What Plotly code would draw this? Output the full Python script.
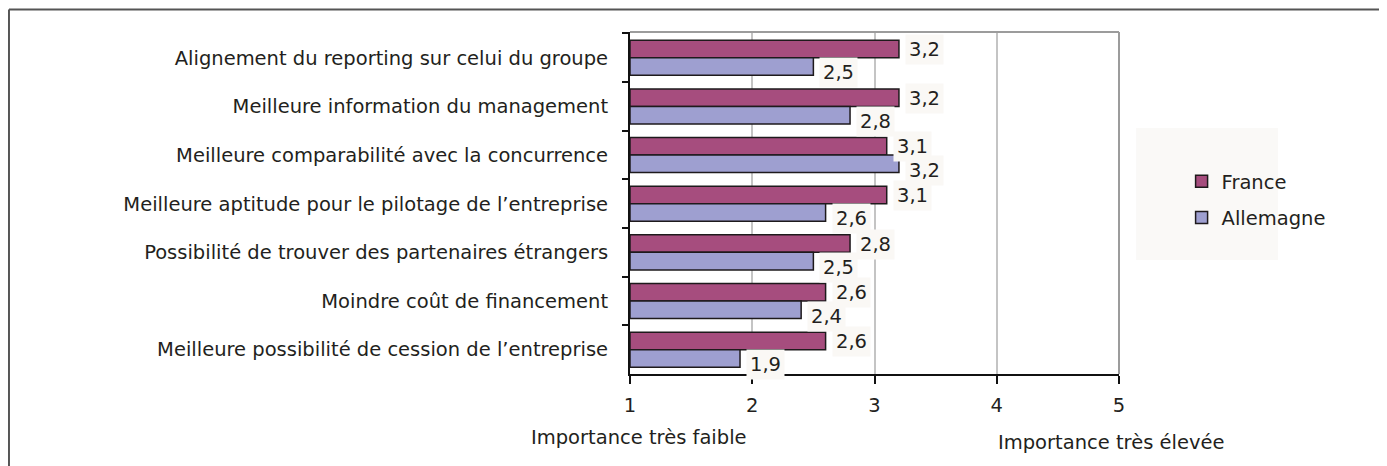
import plotly.graph_objects as go

# données (échelle 1 à 5)
categories = [
    "Alignement du reporting sur celui du groupe",
    "Meilleure information du management",
    "Meilleure comparabilité avec la concurrence",
    "Meilleure aptitude pour le pilotage de l’entreprise",
    "Possibilité de trouver des partenaires étrangers",
    "Moindre coût de financement",
    "Meilleure possibilité de cession de l’entreprise",
]
france = [3.2, 3.2, 3.1, 3.1, 2.8, 2.6, 2.6]
allemagne = [2.5, 2.8, 3.2, 2.6, 2.5, 2.4, 1.9]
x_ticks = [1, 2, 3, 4, 5]

FONT = "DejaVu Sans, Arial, Helvetica, sans-serif"
FS = 19.5
TXT = "#231F20"
C_FR = "#A64D7E"
C_DE = "#9E9FD0"
LABEL_BG = "#FAF8F5"

fig = go.Figure()
fig.add_trace(go.Bar(
    y=categories, x=[v - 1 for v in france], base=1, orientation="h",
    name="France", legendgroup="fr",
    marker=dict(color=C_FR, line=dict(color="#1E1A1C", width=1.5)),
    hoverinfo="skip",
))
fig.add_trace(go.Bar(
    y=categories, x=[v - 1 for v in allemagne], base=1, orientation="h",
    name="Allemagne", legendgroup="de",
    marker=dict(color=C_DE, line=dict(color="#1E1A1C", width=1.5)),
    hoverinfo="skip",
))

# étiquettes de valeur (virgule décimale) avec petit fond clair
def fmt(v):
    return f"{v:.1f}".replace(".", ",")

for i, cat in enumerate(categories):
    for vals, off, ys in ((france, -0.19, -1), (allemagne, 0.19, -6)):
        fig.add_annotation(
            x=vals[i], y=i + off, xref="x", yref="y",
            text=fmt(vals[i]), showarrow=False,
            xanchor="left", xshift=6, yshift=ys,
            bgcolor=LABEL_BG, borderpad=3,
            font=dict(family=FONT, size=FS, color=TXT),
        )

# axes
fig.update_xaxes(
    range=[1, 5], tickvals=x_ticks, ticktext=[str(t) for t in x_ticks],
    showgrid=True, gridcolor="#C4C4C4", gridwidth=2,
    showline=True, linecolor="#111", linewidth=2,
    ticks="outside", ticklen=8, tickwidth=2, tickcolor="#111",
    ticklabelstandoff=5,
    tickfont=dict(family=FONT, size=FS, color=TXT),
    zeroline=False, mirror=False,
)
fig.update_yaxes(
    type="category", categoryorder="array", categoryarray=categories,
    autorange="reversed",
    showline=True, linecolor="#111", linewidth=2,
    ticks="outside", ticklen=6, tickwidth=2, tickcolor="#111",
    tickson="boundaries", ticklabelstandoff=16,
    tickfont=dict(family=FONT, size=FS, color=TXT),
    showgrid=False,
)

# cadre gris haut/droite de la zone de tracé
fig.add_shape(type="line", xref="paper", yref="paper", x0=0, x1=1, y0=1, y1=1,
              line=dict(color="#9C9C9C", width=2))
fig.add_shape(type="line", xref="paper", yref="paper", x0=1, x1=1, y0=0, y1=1,
              line=dict(color="#9C9C9C", width=2))

# cadre extérieur (haut et gauche seulement)
fig.add_shape(type="line", xref="paper", yref="paper", x0=-1.270, x1=1.56, y0=1.066, y1=1.066,
              line=dict(color="#555", width=2))
fig.add_shape(type="line", xref="paper", yref="paper", x0=-1.270, x1=-1.270, y0=1.066, y1=-0.3,
              line=dict(color="#555", width=2))

# fond de la légende
fig.add_shape(type="rect", xref="paper", yref="paper", x0=1.035, x1=1.325, y0=0.333, y1=0.719,
              fillcolor="#FAF9F7", line=dict(width=0), layer="below")

fig.add_annotation(x=0.018, y=-0.187, xref="paper", yref="paper", text="Importance très faible",
                   showarrow=False, xanchor="center", yanchor="middle",
                   font=dict(family=FONT, size=FS, color=TXT))
fig.add_annotation(x=0.984, y=-0.199, xref="paper", yref="paper", text="Importance très élevée",
                   showarrow=False, xanchor="center", yanchor="middle",
                   font=dict(family=FONT, size=FS, color=TXT))

fig.update_layout(
    width=1379, height=458,
    margin=dict(l=622, r=268, t=24, b=92),
    barmode="group", bargap=0.28, bargroupgap=0.0,
    plot_bgcolor="white", paper_bgcolor="white",
    font=dict(family=FONT, size=FS, color=TXT),
    showlegend=True,
    legend=dict(
        x=1.128, y=0.62, xanchor="left", yanchor="top",
        bgcolor="rgba(0,0,0,0)", traceorder="grouped",
        tracegroupgap=8, font=dict(family=FONT, size=FS, color=TXT),
    ),
)

fig.write_html("out.html")
